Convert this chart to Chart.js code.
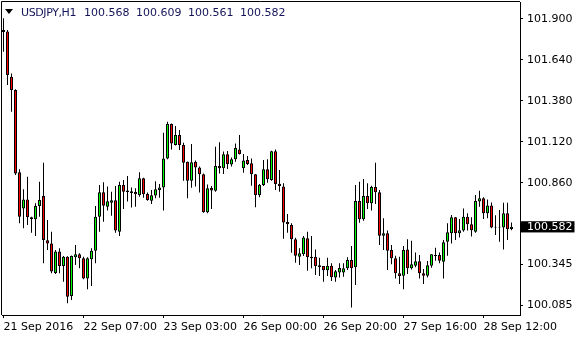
<!DOCTYPE html>
<html>
<head>
<meta charset="utf-8">
<script src="https://cdn.jsdelivr.net/npm/chart.js@4/dist/chart.umd.min.js"></script>
<style>
html,body{margin:0;padding:0;background:#fff;}
#wrap{position:relative;width:580px;height:340px;}
.hdr{position:absolute;top:6px;font:11px/13px "DejaVu Sans",sans-serif;color:#14145a;white-space:pre;}
#tri{position:absolute;left:5px;top:9px;width:0;height:0;border-left:4px solid transparent;border-right:4px solid transparent;border-top:5px solid #000;}
</style>
</head>
<body>
<div id="wrap">
  <canvas id="chart" width="580" height="340"></canvas>
  <div id="tri"></div>
  <div class="hdr" id="sym" style="left:21px;letter-spacing:-0.4px">USDJPY,H1</div>
  <div class="hdr" id="ohlc" style="left:84px;word-spacing:3px"></div>
</div>
<script>
const $ = (id) => document.getElementById(id);

// USDJPY H1, 21 Sep 11:00 .. 28 Sep 19:00 (128 bars)
const opens = [
  101.818,101.820,101.534,101.450,100.928,100.699,100.756,100.642,100.630,100.714,
  100.778,100.497,100.477,100.290,100.425,100.334,100.393,100.143,100.389,100.408,
  100.382,100.255,100.376,100.431,100.646,100.801,100.710,100.735,100.750,100.551,
  100.847,100.803,100.797,100.803,100.784,100.890,100.790,100.748,100.780,100.816,
  100.832,101.016,101.234,101.101,101.164,101.101,100.995,100.875,100.995,100.959,
  100.915,100.674,100.828,100.811,100.968,100.953,101.042,100.978,101.010,101.073,
  100.953,101.006,100.985,100.915,100.784,100.847,100.947,100.879,101.061,100.856,
  100.837,100.613,100.594,100.503,100.393,100.408,100.509,100.393,100.393,100.338,
  100.334,100.306,100.336,100.260,100.293,100.293,100.319,100.372,100.325,100.746,
  100.630,100.778,100.731,100.835,100.801,100.526,100.541,100.435,100.382,100.287,
  100.272,100.439,100.319,100.336,100.363,100.287,100.272,100.336,100.397,100.403,
  100.361,100.488,100.541,100.642,100.541,100.558,100.646,100.598,100.551,100.742,
  100.763,100.668,100.718,100.583,100.577,100.577,100.668,100.568
];
const highs = [
  101.904,101.830,101.555,101.454,100.947,100.820,100.900,100.646,100.731,100.868,
  100.989,100.625,100.551,100.435,100.446,100.397,100.395,100.401,100.467,100.414,
  100.393,100.389,100.446,100.714,100.847,100.864,100.837,100.805,100.841,100.868,
  100.879,100.904,100.832,100.826,100.928,100.894,100.799,100.816,100.871,100.854,
  101.179,101.249,101.238,101.221,101.196,101.116,100.997,101.107,101.002,100.964,
  100.921,100.851,100.841,101.090,101.118,101.059,101.063,101.021,101.111,101.164,
  101.044,101.031,101.016,100.917,100.854,101.006,101.010,101.065,101.073,100.942,
  100.858,100.663,100.604,100.513,100.446,100.524,100.551,100.524,100.439,100.386,
  100.334,100.386,100.351,100.308,100.351,100.351,100.389,100.460,100.847,100.868,
  100.885,100.858,100.843,100.989,100.816,100.636,100.558,100.467,100.399,100.393,
  100.460,100.503,100.494,100.420,100.403,100.315,100.365,100.408,100.450,100.420,
  100.499,100.604,100.657,100.645,100.632,100.699,100.668,100.642,100.784,100.811,
  100.769,100.756,100.737,100.655,100.689,100.735,100.735,100.609
];
const lows = [
  101.693,101.481,101.312,100.911,100.604,100.573,100.594,100.545,100.524,100.646,
  100.351,100.435,100.287,100.283,100.287,100.234,100.097,100.118,100.340,100.319,
  100.249,100.186,100.207,100.351,100.551,100.615,100.685,100.653,100.545,100.524,
  100.695,100.742,100.704,100.710,100.773,100.767,100.748,100.727,100.763,100.767,
  100.685,101.010,101.073,101.097,101.069,100.875,100.763,100.830,100.837,100.799,
  100.672,100.668,100.695,100.805,100.921,100.917,100.949,100.964,100.995,101.040,
  100.925,100.974,100.843,100.706,100.769,100.841,100.862,100.875,100.816,100.805,
  100.507,100.545,100.418,100.355,100.340,100.397,100.304,100.319,100.276,100.270,
  100.234,100.270,100.238,100.234,100.260,100.266,100.308,100.071,100.213,100.608,
  100.621,100.695,100.685,100.727,100.467,100.435,100.308,100.344,100.255,100.220,
  100.186,100.283,100.312,100.325,100.255,100.220,100.260,100.323,100.367,100.351,
  100.255,100.399,100.477,100.499,100.515,100.551,100.558,100.520,100.545,100.710,
  100.632,100.636,100.573,100.530,100.488,100.439,100.499,100.561
];
const closes = [
  101.830,101.545,101.450,100.921,100.646,100.756,100.642,100.630,100.714,100.752,
  100.499,100.477,100.298,100.425,100.334,100.393,100.139,100.397,100.408,100.382,
  100.255,100.382,100.431,100.646,100.801,100.716,100.744,100.750,100.558,100.847,
  100.805,100.813,100.807,100.788,100.890,100.788,100.752,100.782,100.820,100.832,
  101.016,101.234,101.111,101.164,101.101,100.989,100.875,100.991,100.959,100.915,
  100.674,100.826,100.813,100.968,100.953,101.042,100.980,101.010,101.082,101.044,
  101.002,100.980,100.915,100.784,100.849,100.947,100.883,101.061,100.854,100.841,
  100.610,100.598,100.503,100.399,100.414,100.515,100.389,100.382,100.334,100.327,
  100.306,100.336,100.262,100.300,100.321,100.319,100.372,100.319,100.746,100.630,
  100.778,100.731,100.835,100.801,100.526,100.541,100.431,100.382,100.287,100.270,
  100.435,100.319,100.344,100.363,100.287,100.272,100.338,100.408,100.403,100.367,
  100.484,100.547,100.642,100.541,100.560,100.646,100.598,100.560,100.746,100.763,
  100.668,100.718,100.577,100.577,100.583,100.668,100.566,100.582
];
const timeLabels = ['21 Sep 2016','22 Sep 07:00','23 Sep 03:00','26 Sep 00:00','26 Sep 20:00','27 Sep 16:00','28 Sep 12:00'];
const timeTickBars = [0,20,40,60,80,100,120];
const priceTicks = [100.085,100.345,100.860,101.120,101.380,101.640,101.900];

const last = opens.length - 1;
const lastClose = closes[last];
$('ohlc').textContent = [opens[last],highs[last],lows[last],closes[last]].map(v=>v.toFixed(3)).join(' ');

const idx = opens.map((_,i)=>i);
const bodies = idx.map(i=>({x:i,y:[Math.min(opens[i],closes[i]),Math.max(opens[i],closes[i])]}));
const wicks = idx.map(i=>({x:i,y:[lows[i],highs[i]]}));
const bodyColors = idx.map(i=>closes[i]>=opens[i] ? '#00ff00' : '#ff0000');

const frame = {
  id:'frame',
  beforeDatasetsDraw(ch){
    const {ctx,chartArea:a} = ch;
    ctx.save(); ctx.strokeStyle='#000'; ctx.lineWidth=1;
    ctx.beginPath(); ctx.moveTo(a.left-0.5,a.bottom); ctx.lineTo(a.left-0.5,a.top-0.5); ctx.lineTo(a.right,a.top-0.5); ctx.stroke();
    ctx.restore();
  }
};

const noPad = (s) => { s.paddingTop = 0; s.paddingBottom = 0; s.paddingLeft = 0; s.paddingRight = 0; };
const font = {family:'DejaVu Sans',size:11};
new Chart($('chart'),{
  type:'bar',
  data:{datasets:[
    {data:bodies,backgroundColor:bodyColors,borderColor:'#000',borderWidth:1,borderSkipped:false,barThickness:3,grouped:false,inflateAmount:0,order:0},
    {data:wicks,backgroundColor:'#000',borderWidth:0,barThickness:1,grouped:false,inflateAmount:0,order:1}
  ]},
  options:{
    responsive:false, animation:false, events:[],
    layout:{padding:{left:2,top:2,right:0,bottom:0}},
    plugins:{legend:{display:false},tooltip:{enabled:false}},
    scales:{
      x:{type:'linear',min:-0.375,max:129.125,offset:false,
        grid:{drawOnChartArea:false,offset:false,tickLength:3,color:'#000'},
        border:{color:'#000'},
        afterBuildTicks:s=>{ s.ticks = timeTickBars.map(v=>({value:v})); },
        afterFit:s=>{ s.height = 25; noPad(s); },
        ticks:{align:'start',maxRotation:0,autoSkip:false,padding:3,color:'#000',font,
          callback:(v,i)=>timeLabels[i]}},
      y:{position:'right',min:100.0229,max:102.0078,beginAtZero:false,
        grid:{drawOnChartArea:false,tickLength:3,color:'#000'},
        border:{color:'#000'},
        afterBuildTicks:s=>{ s.ticks = priceTicks.concat([lastClose]).map(v=>({value:v})); },
        afterFit:s=>{ s.width = 60; noPad(s); },
        ticks:{padding:4,font,
          color:c=>c.tick && c.tick.value===lastClose ? '#fff' : '#000',
          showLabelBackdrop:c=>!!(c.tick && c.tick.value===lastClose),
          backdropColor:'#000',
          backdropPadding:{top:-1,bottom:-1,left:6,right:2},
          callback:v=>v.toFixed(3)}}
    }
  },
  plugins:[frame]
});
</script>
</body>
</html>
